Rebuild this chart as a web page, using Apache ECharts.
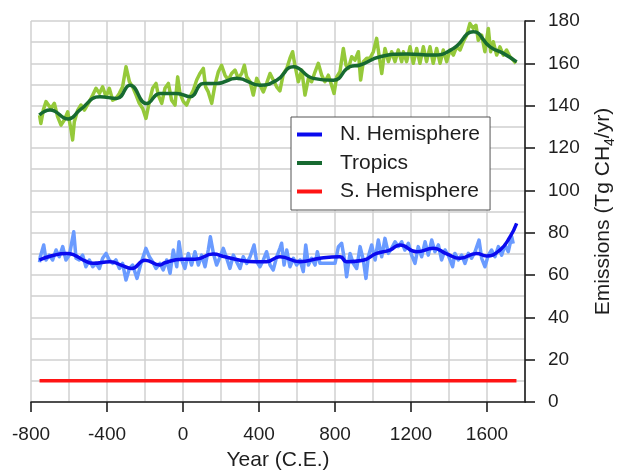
<!DOCTYPE html>
<html>
<head>
<meta charset="utf-8">
<script src="https://cdn.jsdelivr.net/npm/echarts@6/dist/echarts.min.js"></script>
<style>
html,body{margin:0;padding:0;background:#fff}
#chart{width:618px;height:473px}
</style>
</head>
<body>
<div id="chart"></div>
<script>
// Methane emissions by latitude band, 750 B.C.E. - 1750 C.E.
const yearTicks = [-800, -400, 0, 400, 800, 1200, 1600];

const tropicsRawYears = [-755,-748,-735,-721,-712,-695,-677,-660,-642,-625,-607,-589,-581,-572,-554,-537,-519,-493,-475,-458,-440,-423,-405,-388,-370,-353,-335,-318,-300,-282,-265,-247,-230,-212,-195,-177,-160,-142,-130,-112,-95,-77,-60,-42,-28,-16,2,19,37,54,72,89,107,119,133,151,168,186,203,221,238,256,274,291,309,323,335,353,370,388,405,423,440,458,475,493,510,528,546,563,577,589,607,625,642,660,677,695,712,730,747,765,782,795,809,826,844,858,870,888,905,923,935,949,967,984,1002,1019,1033,1046,1063,1081,1098,1116,1133,1151,1160,1177,1195,1212,1230,1247,1265,1282,1300,1317,1335,1353,1370,1388,1405,1423,1440,1458,1475,1493,1510,1528,1542,1554,1572,1589,1607,1619,1633,1651,1668,1686,1703,1721,1738,1752];
const tropicsRawValues = [135.5,131.6,138,141.9,142.6,138.7,141.1,134.8,130.8,133.2,137.1,128.5,123.8,132.4,137.9,140.3,137.9,141.9,145,148.2,145.8,148.9,144.2,148.2,142.6,143.4,145.8,148.9,158.4,151.3,148.9,145,141.1,138.7,134,141.9,148.2,150.5,145,141.1,148.2,150.5,142.6,140.3,153.6,145.8,141.9,140.3,144.2,147.3,152.1,155.2,157.6,148.9,146.5,141.1,149.7,156,159.1,154.4,152.1,155.2,156.8,152.9,155.2,159.1,153.6,151.3,145,152.9,149.7,146.5,150.5,155.2,152.1,148.9,147,155,157.6,162.4,165.5,159.1,151.3,156.8,145,152.9,151.3,156,160,154.4,151.3,154.4,149.7,145.8,153.6,156,167,159.1,157.6,163.1,161.5,165.5,152.1,160.8,162.4,162.4,165.5,171.8,163.1,155.2,167,160.8,165.5,160.8,166.3,160.8,165.5,160.8,167.8,160,167,160,167.8,160.8,167.8,160,167,160,166.3,160.8,166.3,163.9,167.8,166.3,170.2,173.3,178.8,176.5,178,170.9,173.3,165.5,176.5,165.5,170.2,163.9,167.8,163.9,166.3,163.1,161.5,160];

const tropicsSmoothYears = [-756,-700,-604,-542,-437,-349,-279,-191,-121,-33,37,107,177,283,405,493,581,686,791,879,932,1037,1177,1317,1423,1528,1616,1686,1756];
const tropicsSmoothValues = [135.6,138,133.7,138,144.2,143.4,149.7,141,145.8,145.8,144.2,150.5,150.5,152.9,149.7,152,158.4,152.9,152,158.4,159.2,163.1,164.4,163.9,167,174.9,167.8,164.7,160.7];

const nhRawYears = [-755,-751,-733,-721,-704,-686,-668,-651,-633,-616,-598,-575,-563,-546,-528,-511,-493,-475,-458,-440,-423,-405,-388,-370,-353,-335,-318,-300,-282,-265,-242,-221,-195,-177,-160,-142,-121,-104,-86,-68,-51,-33,-21,-7,10,28,45,63,81,98,116,133,144,160,177,195,212,230,247,265,282,300,317,335,353,374,388,405,423,440,458,475,493,510,519,532,546,563,581,598,616,633,646,660,677,695,707,721,800,818,835,853,861,879,896,914,932,949,963,975,993,1011,1028,1046,1063,1081,1098,1116,1133,1151,1168,1186,1203,1221,1238,1256,1274,1291,1309,1326,1344,1361,1379,1396,1419,1431,1449,1467,1484,1502,1519,1537,1558,1572,1589,1607,1624,1642,1660,1677,1695,1712,1730,1738];
const nhRawValues = [66,68.6,74.2,67.1,69.4,67.1,71.8,68.6,73.4,67.1,69.4,80.4,67.9,67.1,69.4,63.9,67.1,63.9,65.5,63.1,67.9,70.2,67.1,65.5,67.1,63.1,65.5,57.6,63.1,64.7,58.4,65.5,72.6,68.6,66.3,63.1,65.5,62.4,67.1,60.8,71.8,63.9,75.7,67.1,63.1,70.2,64.7,71,64.7,69.4,63.9,71.8,78.1,70.2,64.7,68.6,72.6,67.9,63.1,69.4,66.3,63.1,68.6,65.5,68.6,74.2,66.3,63.9,67.1,71,64.7,62.4,68.6,72.6,75,64.7,71.8,63.9,67.9,64.7,67.1,61.6,74.2,64.7,67.9,64.7,71,65.5,65.5,73.4,75,65.5,59.2,70.2,65.5,63.1,73.4,67.1,58.4,68.6,74.2,67.1,76.5,68.6,77.3,70.2,72.6,75.7,73.4,75.7,71.8,75,69.4,65.5,73.4,68.6,75.7,69.4,76.5,71,74.2,67.1,71.8,69.4,63.9,70.2,67.1,69.4,65.5,70.2,67.9,71,76.5,67.9,63.9,69.4,71.8,68.6,73.4,69.4,74.2,71,78.1,74.8];

const nhSmoothYears = [-756,-695,-612,-572,-519,-472,-384,-326,-270,-200,-121,-95,-7,63,158,221,300,379,440,510,616,721,826,862,948,1019,1089,1142,1230,1317,1388,1458,1546,1598,1668,1721,1756];
const nhSmoothValues = [67.1,69,70.2,69.4,66.8,65.5,66.3,64.7,63.1,67,64.7,65.8,67.4,67.4,69.9,68.6,67,66.3,66.3,68.6,66.3,67.9,68.6,66.3,67,70.2,71.8,74.2,71,72.6,70,67.9,70.2,69,71.8,78,84.4];

const shYears = [-755, 1755];
const shValues = [10, 10];

const pairs = (xs, ys) => xs.map((x, i) => [x, ys[i]]);

const FONT = '"Liberation Sans", Arial, sans-serif';
const gridColor = '#d0d0d0';
const inkColor = '#1e1e1e';

const chart = echarts.init(document.getElementById('chart'), null, { renderer: 'canvas' });

chart.setOption({
  animation: false,
  backgroundColor: '#ffffff',
  textStyle: { fontFamily: FONT, color: inkColor },
  grid: { left: 31, top: 21, right: 93, bottom: 71, containLabel: false, outerBoundsMode: 'none' },
  xAxis: [
    {
      // fine 200-year grid
      type: 'value', position: 'bottom', min: -800, max: 1800, interval: 200,
      axisLine: { show: false, onZero: false }, axisTick: { show: false }, axisLabel: { show: false },
      splitLine: { show: true, lineStyle: { color: gridColor, width: 1.5 } }
    },
    {
      // labelled axis line with ticks every 400 years
      type: 'value', position: 'bottom', min: -800, max: 1800, interval: 400,
      axisLine: { show: true, onZero: false, lineStyle: { color: inkColor, width: 1.6 } },
      axisTick: { show: true, inside: false, length: 10, customValues: yearTicks, lineStyle: { color: inkColor, width: 1.6 } },
      axisLabel: {
        show: true, margin: 23, fontSize: 19, fontFamily: FONT, color: inkColor,
        customValues: yearTicks,
        formatter: v => String(v)
      },
      splitLine: { show: false },
      name: 'Year (C.E.)', nameLocation: 'middle', nameGap: 48,
      nameTextStyle: { fontSize: 21, fontFamily: FONT, color: inkColor }
    }
  ],
  yAxis: {
    type: 'value', position: 'right', min: 0, max: 180, interval: 20,
    axisLine: { show: true, onZero: false, lineStyle: { color: inkColor, width: 1.6 } },
    axisTick: { show: true, inside: false, length: 10, lineStyle: { color: inkColor, width: 1.6 } },
    axisLabel: { show: true, margin: 23, fontSize: 19, fontFamily: FONT, color: inkColor },
    splitLine: { show: true, lineStyle: { color: gridColor, width: 1.5 } },
    minorTick: { show: false, splitNumber: 2 },
    minorSplitLine: { show: true, lineStyle: { color: gridColor, width: 1.5 } },
    name: 'Emissions (Tg CH{sub|4}/yr)', nameLocation: 'middle', nameGap: 68, nameRotate: 90,
    nameTextStyle: {
      fontSize: 21, fontFamily: FONT, color: inkColor,
      rich: { sub: { fontSize: 14, fontFamily: FONT, color: inkColor, verticalAlign: 'bottom', padding: [0, 0, -3, 0] } }
    }
  },
  legend: {
    orient: 'vertical', left: 291, top: 117,
    padding: [7, 10, 8, 6],
    itemWidth: 25, itemHeight: 4, itemGap: 7.5, icon: 'rect',
    backgroundColor: '#ffffff', borderColor: '#555555', borderWidth: 1,
    textStyle: { fontSize: 21, fontFamily: FONT, color: inkColor, padding: [0, 0, 0, 13] },
    data: ['N. Hemisphere', 'Tropics', 'S. Hemisphere'],
    selectedMode: false, z: 10
  },
  series: [
    {
      name: 'Tropics annual', type: 'line', xAxisIndex: 0, showSymbol: false, silent: true,
      data: pairs(tropicsRawYears, tropicsRawValues),
      lineStyle: { color: '#95c93a', width: 3.5, join: 'round' }, z: 2
    },
    {
      name: 'Tropics', type: 'line', xAxisIndex: 0, showSymbol: false, silent: true, smooth: 0.5,
      data: pairs(tropicsSmoothYears, tropicsSmoothValues),
      color: '#176a31',
      lineStyle: { color: '#176a31', width: 3.5 }, z: 3
    },
    {
      name: 'N. Hemisphere annual', type: 'line', xAxisIndex: 0, showSymbol: false, silent: true,
      data: pairs(nhRawYears, nhRawValues),
      lineStyle: { color: '#6a9bff', width: 3.5, join: 'round' }, z: 2
    },
    {
      name: 'N. Hemisphere', type: 'line', xAxisIndex: 0, showSymbol: false, silent: true, smooth: 0.5,
      data: pairs(nhSmoothYears, nhSmoothValues),
      color: '#0a0aee',
      lineStyle: { color: '#0a0aee', width: 3.5 }, z: 3
    },
    {
      name: 'S. Hemisphere', type: 'line', xAxisIndex: 0, showSymbol: false, silent: true,
      data: pairs(shYears, shValues),
      color: '#ff1414',
      lineStyle: { color: '#ff1414', width: 3.5 }, z: 3
    }
  ]
});
</script>
</body>
</html>
